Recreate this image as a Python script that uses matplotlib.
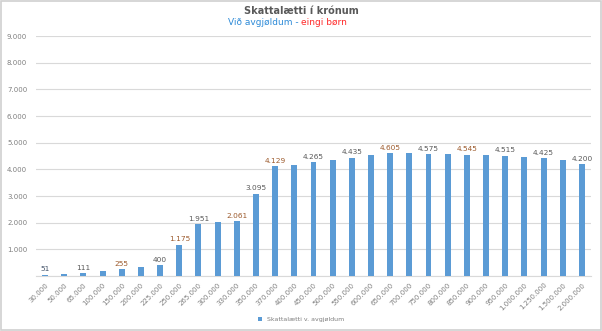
import matplotlib.pyplot as plt
import numpy as np

# Inntøka (kr.) og skattalætti við avgjøldum
categories = ['30.000', '50.000', '65.000', '100.000', '150.000', '200.000', '225.000',
              '250.000', '265.000', '300.000', '330.000', '350.000', '370.000', '400.000',
              '450.000', '500.000', '550.000', '600.000', '650.000', '700.000', '750.000',
              '800.000', '850.000', '900.000', '950.000', '1.000.000', '1.250.000',
              '1.500.000', '2.000.000']
values = [51, 80, 111, 180, 255, 330, 400, 1175, 1951, 2010, 2061, 3095, 4129, 4160,
          4265, 4350, 4435, 4530, 4605, 4600, 4575, 4570, 4545, 4540, 4515, 4480, 4425,
          4360, 4200]
yticks = [0, 1000, 2000, 3000, 4000, 5000, 6000, 7000, 8000, 9000]
ytick_labels = ['', '1.000', '2.000', '3.000', '4.000', '5.000', '6.000', '7.000', '8.000', '9.000']

# bara hvør annað virði fær tal
label_colors = {0: '#44546A', 2: '#595959', 4: '#9C5A2C', 6: '#595959', 7: '#9C5A2C',
                8: '#595959', 10: '#9C5A2C', 11: '#595959', 12: '#9C5A2C', 14: '#595959',
                16: '#595959', 18: '#9C5A2C', 20: '#595959', 22: '#9C5A2C', 24: '#595959',
                26: '#595959', 28: '#595959'}

def fmt(v):
    return f'{v:,}'.replace(',', '.')

fig = plt.figure(figsize=(6.02, 3.31), dpi=100)
ax = fig.add_axes([0.059, 0.166, 0.9235, 0.725])

x = np.arange(len(categories))
ax.bar(x, values, width=0.31, color='#5B9BD5', label='Skattalætti v. avgjøldum', zorder=3)

for i, c in label_colors.items():
    ax.text(x[i], values[i] + 90, fmt(values[i]), ha='center', va='bottom',
            fontsize=5.3, color=c)

ax.set_xlim(-0.5, len(categories) - 0.5)
ax.set_ylim(0, 9000)
ax.set_yticks(yticks)
ax.set_yticklabels(ytick_labels)
ax.set_xticks(x)
ax.set_xticklabels(categories, rotation=45, ha='right', rotation_mode='anchor')
ax.tick_params(axis='both', length=0, labelsize=5, colors='#7F7F7F', pad=4)
ax.tick_params(axis='y', pad=6)
ax.grid(axis='y', color='#D9D9D9', linewidth=0.8, zorder=0)
for s in ['top', 'right', 'left']:
    ax.spines[s].set_visible(False)
ax.spines['bottom'].set_color('#D9D9D9')

# heiti
fig.text(0.5, 0.968, 'Skattalætti í krónum', ha='center', va='center',
         fontsize=7, fontweight='bold', color='#595959')
fig.text(0.5, 0.933, 'Við avgjøldum - ', ha='right', va='center', fontsize=6.5, color='#2E8BD8')
fig.text(0.5, 0.933, 'eingi børn', ha='left', va='center', fontsize=6.5, color='#FF2A2A')

fig.legend(loc='center', bbox_to_anchor=(0.5, 0.035), frameon=False, fontsize=4.5,
           handlelength=0.6, handleheight=0.6, labelcolor='#7F7F7F')

# ramma um myndina
fig.patches.append(plt.Rectangle((0.002, 0.004), 0.996, 0.992, transform=fig.transFigure,
                                 fill=False, edgecolor='#D0D0D0', linewidth=1.2))

plt.savefig('out.png', dpi=100)
